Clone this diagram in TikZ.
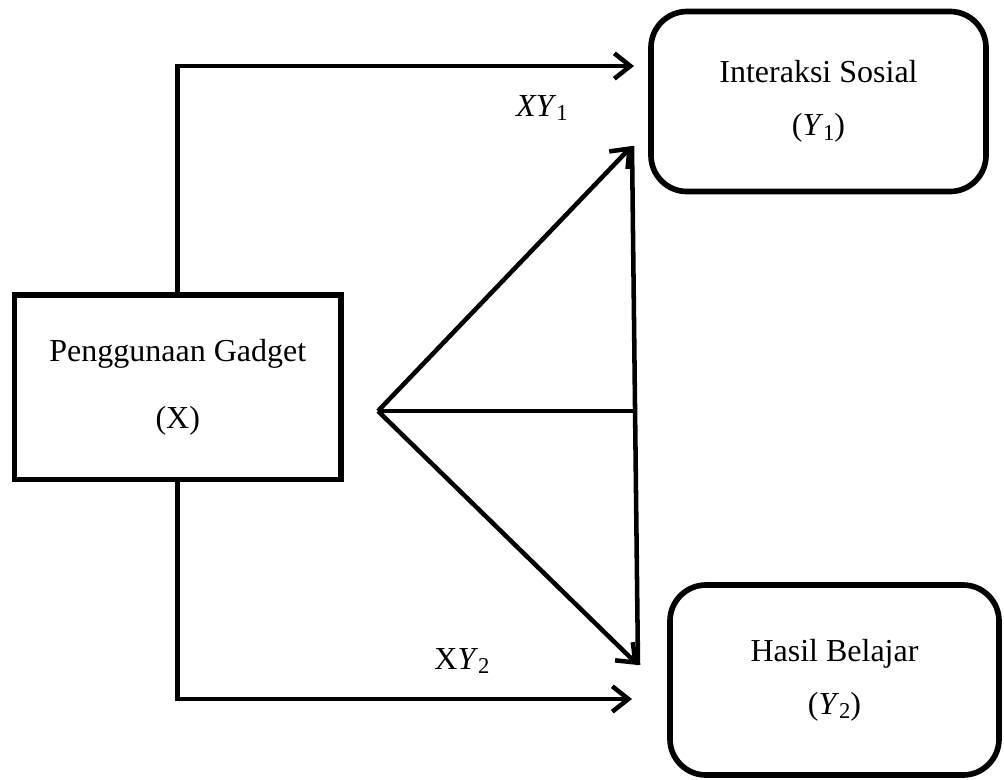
\documentclass[tikz,border=0pt]{standalone}
\usepackage{fontspec}
\setmainfont{Liberation Serif}
\usetikzlibrary{arrows.meta}
\newcommand{\subidx}[1]{\raisebox{-0.3ex}{\fontsize{17}{17}\selectfont #1}}
\begin{document}
\begin{tikzpicture}[x=0.75pt,y=-0.75pt,
  box/.style={draw, line width=4.25pt, inner sep=0pt, align=center},
  rbox/.style={box, rounded corners=27pt},
  conn/.style={line width=3.4pt},
  arr/.style={conn, -{Straight Barb[length=12pt,width=19pt]}},
  lbl/.style={inner sep=0pt, font=\fontsize{24}{28}\selectfont}]
\useasboundingbox (0,0) rectangle (1004,779);

\node[box, minimum width=244.9pt, minimum height=138.4pt,
      font=\fontsize{24}{50}\selectfont] (X) at (177.75,387.25)
      {Penggunaan Gadget\\(X)};
\node[rbox, minimum width=251.25pt, minimum height=135pt,
      font=\fontsize{24}{40}\selectfont] (Y1) at (818.5,101.5)
      {Interaksi Sosial\\(\textit{Y}\subidx{1})};
\node[rbox, minimum width=246.75pt, minimum height=142.5pt,
      font=\fontsize{24}{40}\selectfont] (Y2) at (834.5,680)
      {Hasil Belajar\\(\textit{Y}\subidx{2})};

\coordinate (t1) at (634,66);
\coordinate (b1) at (632,699);
\coordinate (A) at (378,411);
\coordinate (T) at (632,146);
\coordinate (B) at (638,665);
\coordinate (M) at (633,411);

\draw[arr] (X.north) |- (t1);
\draw[arr] (X.south) |- (b1);
\draw[conn] (T) -- (B);
\draw[conn] (A) -- (M);
\draw[arr] (A) -- (T);
\draw[arr] (A) -- (B);

\node[lbl] (l1) at (542,108) {\textit{XY}\subidx{1}};
\node[lbl] (l2) at (462,661) {X\textit{Y}\subidx{2}};
\end{tikzpicture}
\end{document}
